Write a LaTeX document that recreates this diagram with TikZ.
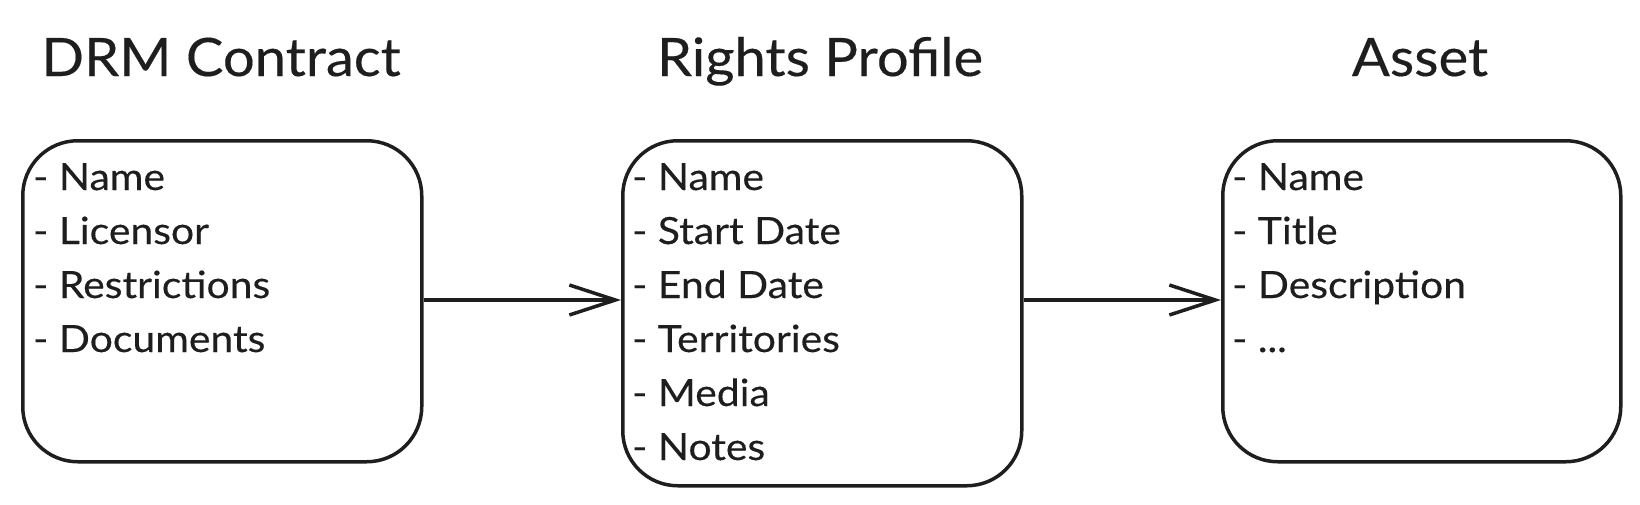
\documentclass[tikz,border=0pt]{standalone}
\usepackage{fontspec}
\setmainfont{Lato}
\newfontfamily\titlefont{Lato}[FakeStretch=1.06,FakeBold=0.3]
\newfontfamily\itemfont{Lato}[FakeStretch=1.09,FakeBold=0.3]
\usetikzlibrary{arrows.meta}
\definecolor{ink}{HTML}{1E1E1E}
\begin{document}
\begin{tikzpicture}[x=1pt,y=-1pt,
  entity/.style={draw=ink, line width=3.5pt, rounded corners=55pt, inner sep=0pt, anchor=north west},
  title/.style={anchor=base, inner sep=0pt, text=ink, font=\titlefont\fontsize{53}{60}\selectfont},
  items/.style={anchor=base west, inner sep=0pt, text=ink, font=\itemfont\fontsize{37.5}{54}\selectfont},
  link/.style={draw=ink, line width=3.5pt, -{Straight Barb[length=46pt,width=30pt]}}]
\useasboundingbox (0,0) rectangle (1640,504);
% boxes
\node[entity, minimum width=399pt, minimum height=321pt] (drm) at (21,139) {};
\node[entity, minimum width=399pt, minimum height=345pt] (rp) at (621,139) {};
\node[entity, minimum width=398pt, minimum height=321pt] (asset) at (1221,139) {};
% titles
\node[title] (tdrm) at (221,76) {DRM Contract};
\node[title] (trp) at (820,76) {Rights Profile};
\node[title] (tasset) at (1420,76) {Asset};
% items
\node[items] (idrm) at (33,190) {\begin{tabular}[t]{@{}l@{}}- Name\\- Licensor\\- Restrictions\\- Documents\end{tabular}};
\node[items] (irp) at (632,190) {\begin{tabular}[t]{@{}l@{}}- Name\\- Start Date\\- End Date\\- Territories\\- Media\\- Notes\end{tabular}};
\node[items] (iasset) at (1232,190) {\begin{tabular}[t]{@{}l@{}}- Name\\- Title\\- Description\\- ...\end{tabular}};
% connectors
\draw[link] (drm.east |- 0,300) -- (rp.west |- 0,300);
\draw[link] (rp.east |- 0,300) -- (asset.west |- 0,300);
\end{tikzpicture}
\end{document}
